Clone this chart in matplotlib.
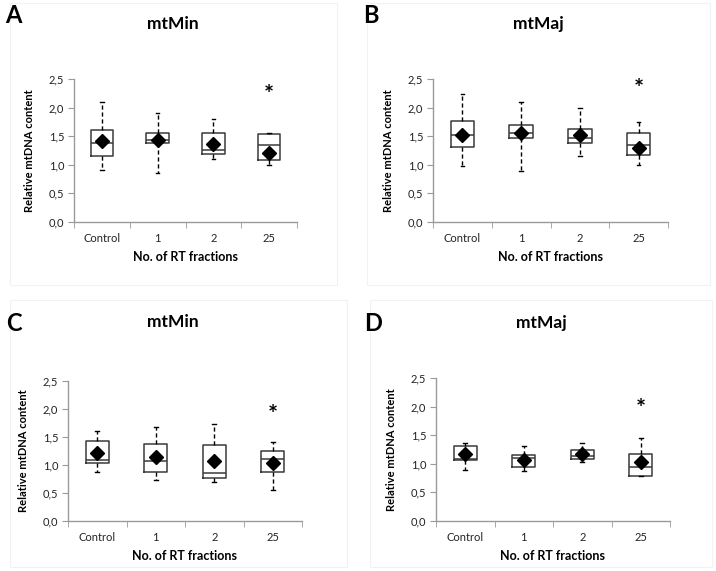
import matplotlib

matplotlib.use("Agg")
import matplotlib.pyplot as plt
from matplotlib.patches import Rectangle
from matplotlib.ticker import FixedLocator, FuncFormatter

plt.rcParams["font.family"] = ["Lato", "DejaVu Sans"]

CATEGORIES = ["Control", "1", "2", "25"]
PANEL_LETTERS = ["A", "B", "C", "D"]
PANEL_TITLES = ["mtMin", "mtMaj", "mtMin", "mtMaj"]

# per panel: whisker low, box low (q1), median, box high (q3), whisker high, mean
A_WHISLO = [0.91, 0.86, 1.10, 1.00]
A_Q1 = [1.15, 1.38, 1.19, 1.08]
A_MED = [1.38, 1.44, 1.26, 1.35]
A_Q3 = [1.61, 1.55, 1.55, 1.53]
A_WHISHI = [2.10, 1.90, 1.80, 1.55]
A_MEAN = [1.41, 1.43, 1.37, 1.21]

B_WHISLO = [0.98, 0.90, 1.15, 1.00]
B_Q1 = [1.31, 1.47, 1.38, 1.17]
B_MED = [1.52, 1.55, 1.47, 1.34]
B_Q3 = [1.76, 1.69, 1.62, 1.55]
B_WHISHI = [2.23, 2.09, 2.00, 1.75]
B_MEAN = [1.52, 1.55, 1.52, 1.29]

C_WHISLO = [0.88, 0.74, 0.69, 0.55]
C_Q1 = [1.03, 0.87, 0.77, 0.88]
C_MED = [1.09, 1.07, 0.86, 1.10]
C_Q3 = [1.43, 1.37, 1.35, 1.25]
C_WHISHI = [1.61, 1.67, 1.74, 1.41]
C_MEAN = [1.22, 1.15, 1.07, 1.04]

D_WHISLO = [0.90, 0.87, 1.04, 0.79]
D_Q1 = [1.07, 0.95, 1.09, 0.79]
D_MED = [1.08, 1.11, 1.14, 0.94]
D_Q3 = [1.31, 1.15, 1.25, 1.18]
D_WHISHI = [1.37, 1.31, 1.36, 1.45]
D_MEAN = [1.17, 1.07, 1.18, 1.03]

# significance star above the "25" group
STAR_Y = [2.34, 2.43, 2.00, 2.07]

PANEL_DATA = [
    (A_WHISLO, A_Q1, A_MED, A_Q3, A_WHISHI, A_MEAN),
    (B_WHISLO, B_Q1, B_MED, B_Q3, B_WHISHI, B_MEAN),
    (C_WHISLO, C_Q1, C_MED, C_Q3, C_WHISHI, C_MEAN),
    (D_WHISLO, D_Q1, D_MED, D_Q3, D_WHISHI, D_MEAN),
]

W, H = 716, 571
# axes boxes in pixels: left, top, right, bottom
AXES_PX = [
    (74, 79, 297, 222),
    (433, 79, 668, 222),
    (68, 381, 302, 521),
    (436, 378, 670, 521),
]
# outer panel frames in pixels
FRAMES_PX = [
    (10, 3, 337, 285),
    (367, 3, 710, 285),
    (10, 300, 347, 567),
    (370, 300, 712, 567),
]
LETTER_PX = [(5, 4), (363, 4), (6, 312), (364, 312)]
TITLE_PX = [(173, 24), (538, 24), (173, 322), (541, 323)]


def comma_fmt(v, _pos):
    return f"{v:.1f}".replace(".", ",")


def draw_panel(fig, idx):
    left, top, right, bottom = AXES_PX[idx]
    ax = fig.add_axes([left / W, 1 - bottom / H, (right - left) / W, (bottom - top) / H])
    whislo, q1, med, q3, whishi, mean = PANEL_DATA[idx]
    stats = []
    for i, label in enumerate(CATEGORIES):
        stats.append(
            {
                "label": label,
                "whislo": whislo[i],
                "q1": q1[i],
                "med": med[i],
                "q3": q3[i],
                "whishi": whishi[i],
                "mean": mean[i],
                "fliers": [],
            }
        )
    ax.bxp(
        stats,
        positions=range(len(CATEGORIES)),
        widths=0.4,
        showmeans=True,
        showfliers=False,
        capwidths=0.06,
        boxprops=dict(color="#3a3a3a", linewidth=1.1),
        medianprops=dict(color="#3a3a3a", linewidth=1.1),
        whiskerprops=dict(color="black", linewidth=1.0, linestyle=(0, (3, 2))),
        capprops=dict(color="black", linewidth=1.0),
        meanprops=dict(marker="D", markerfacecolor="black", markeredgecolor="black", markersize=7),
    )
    # glyph sits high in its box, so nudge it down a little
    ax.annotate("*", xy=(3, STAR_Y[idx]), xytext=(0, -5), textcoords="offset points",
                ha="center", va="center", fontsize=17, fontweight="bold")

    ax.set_xlim(-0.5, len(CATEGORIES) - 0.5)
    ax.set_ylim(0, 2.5)
    ax.set_xticks(range(len(CATEGORIES)))
    ax.set_xticklabels(CATEGORIES)
    ax.xaxis.set_minor_locator(FixedLocator([i - 0.5 for i in range(len(CATEGORIES) + 1)]))
    ax.tick_params(axis="x", which="major", length=0, pad=8, labelsize=8, labelcolor="#222222")
    ax.tick_params(axis="x", which="minor", length=4, color="#9a9a9a", direction="out")
    ax.set_yticks([0, 0.5, 1.0, 1.5, 2.0, 2.5])
    ax.yaxis.set_major_formatter(FuncFormatter(comma_fmt))
    ax.tick_params(axis="y", length=4, color="#9a9a9a", labelsize=8, labelcolor="#222222", pad=3)
    for side in ("top", "right"):
        ax.spines[side].set_visible(False)
    for side in ("left", "bottom"):
        ax.spines[side].set_color("#9a9a9a")
        ax.spines[side].set_linewidth(1.0)
    ax.set_xlabel("No. of RT fractions", fontsize=9, fontweight="bold", labelpad=5)
    ax.set_ylabel("Relative mtDNA content", fontsize=8, fontweight="bold", labelpad=10)

    fl, ft, fr, fb = FRAMES_PX[idx]
    fig.patches.append(
        Rectangle((fl / W, 1 - fb / H), (fr - fl) / W, (fb - ft) / H,
                  transform=fig.transFigure, fill=False, edgecolor="#f2f2f2", linewidth=0.8)
    )
    lx, ly = LETTER_PX[idx]
    fig.text(lx / W, 1 - ly / H, PANEL_LETTERS[idx], ha="left", va="top", fontsize=17, fontweight="bold")
    tx, ty = TITLE_PX[idx]
    fig.text(tx / W, 1 - ty / H, PANEL_TITLES[idx], ha="center", va="center", fontsize=12.5, fontweight="bold")


def main():
    fig = plt.figure(figsize=(W / 100, H / 100), dpi=100)
    for idx in range(4):
        draw_panel(fig, idx)
    fig.savefig("out.png", dpi=100)
    plt.close(fig)


if __name__ == "__main__":
    main()
